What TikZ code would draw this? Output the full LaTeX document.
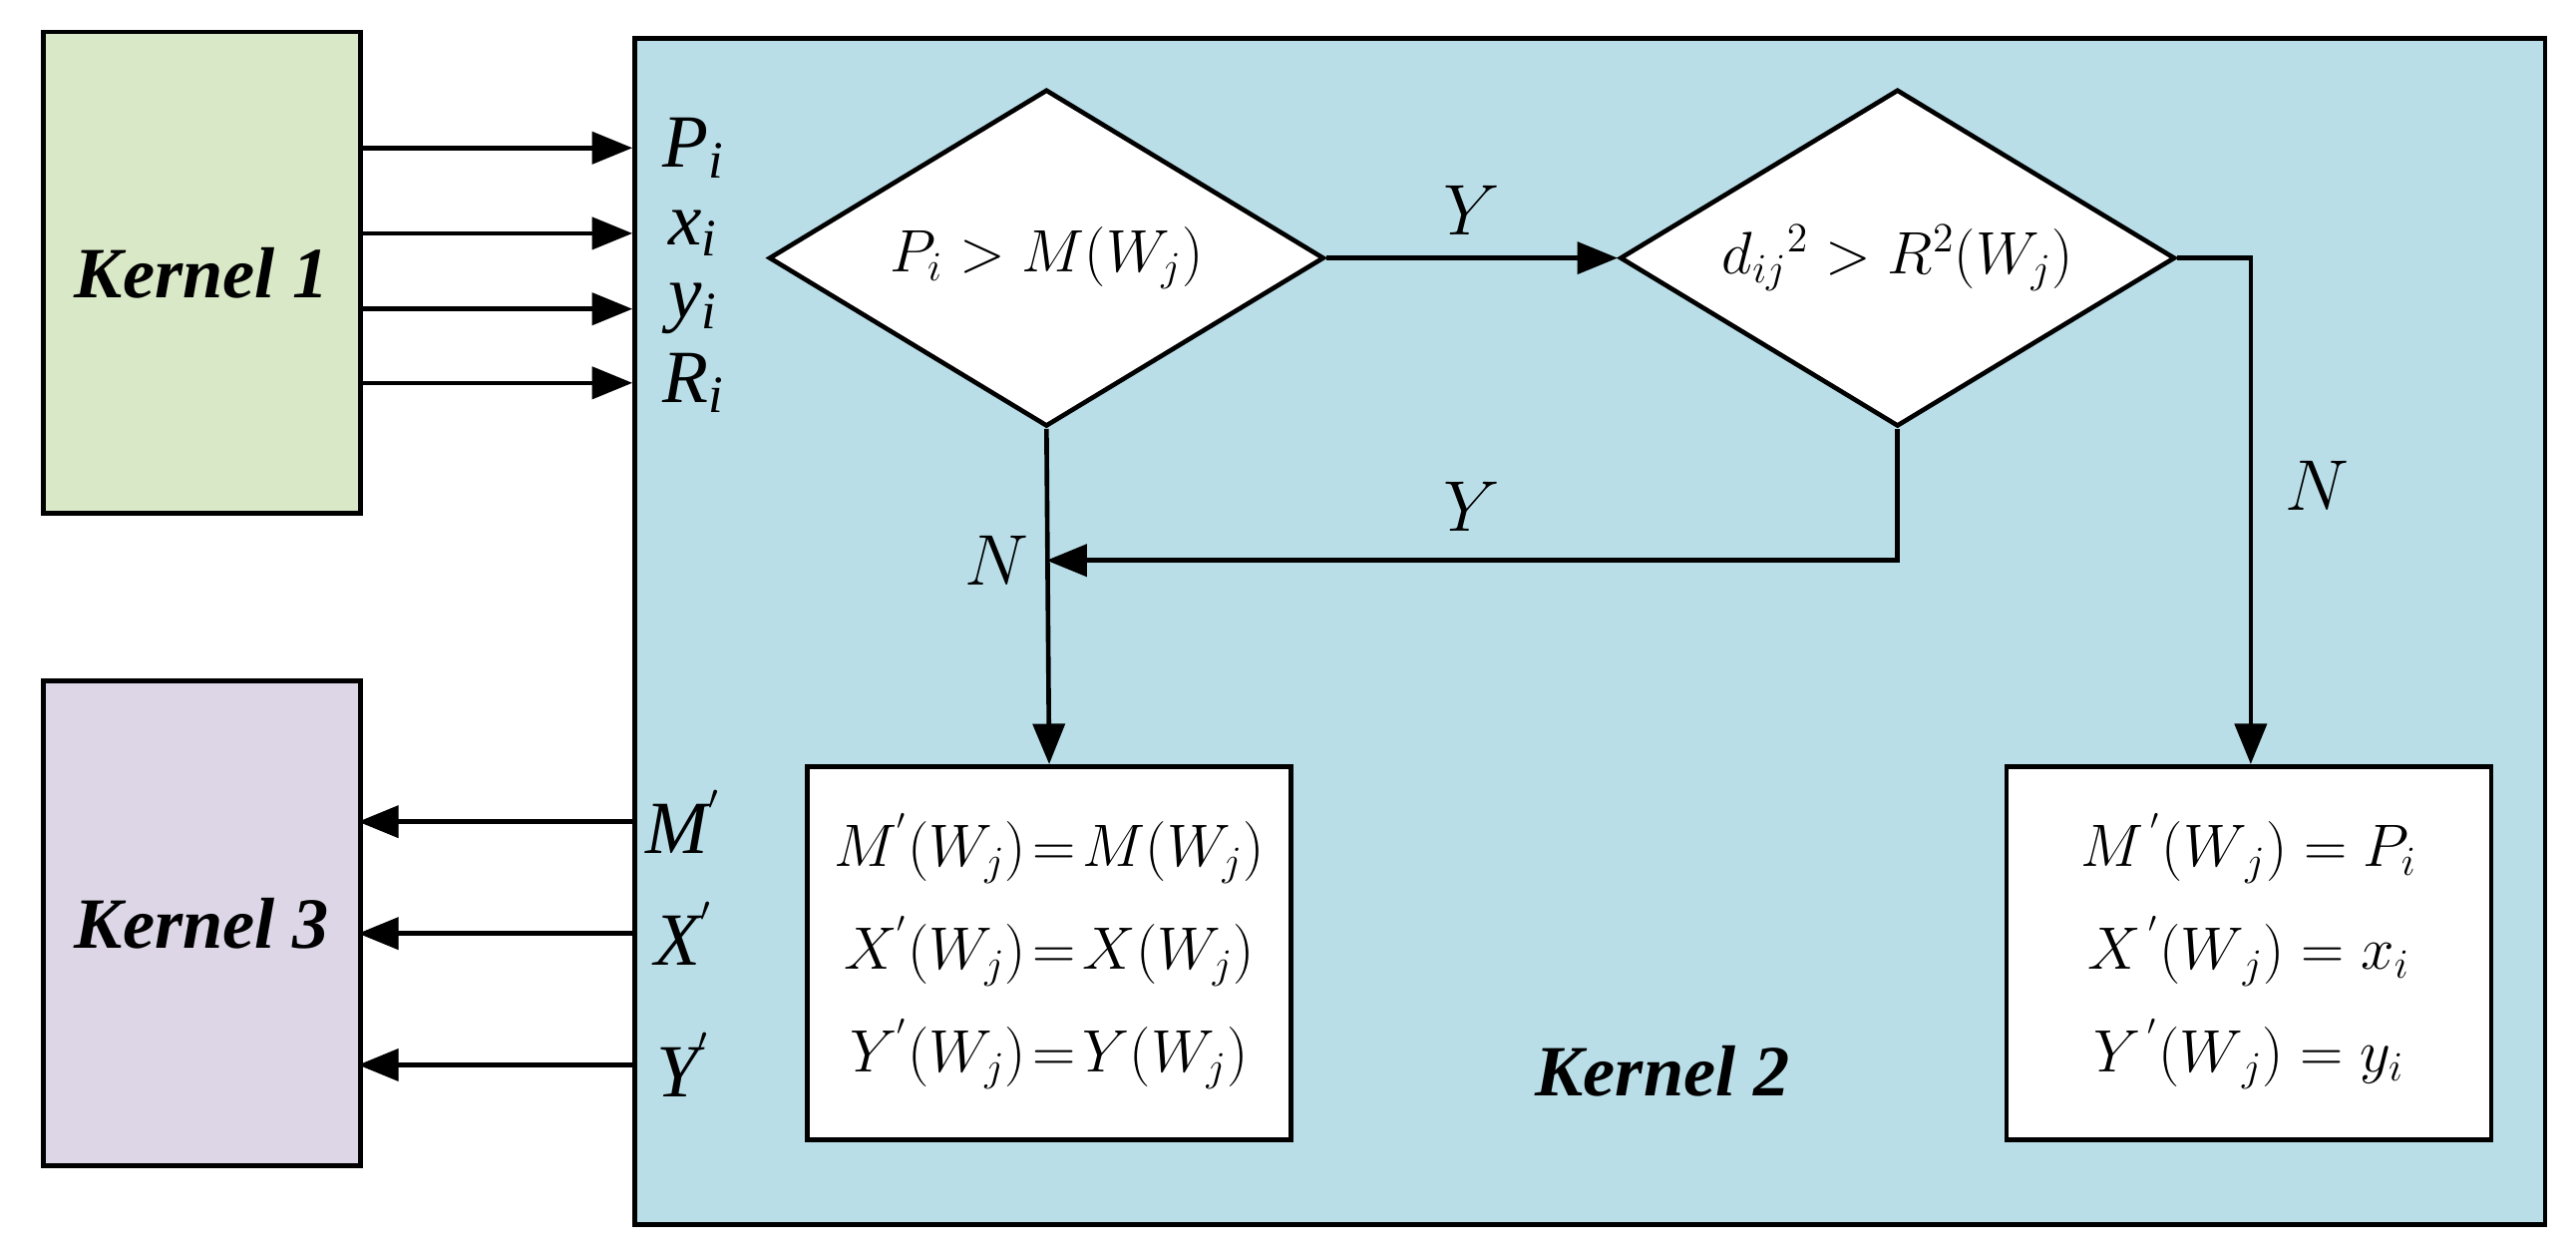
\documentclass[tikz,border=0pt]{standalone}
\usepackage{fontspec}
\setmainfont{Liberation Serif}
\usetikzlibrary{arrows.meta,shapes.geometric}
\definecolor{kone}{HTML}{D9E8C6}
\definecolor{kthree}{HTML}{DCD6E6}
\definecolor{ktwo}{HTML}{B9DEE8}
\begin{document}
\begin{tikzpicture}[x=0.02cm,y=-0.02cm,
  line width=1.6pt,
  arr/.style={-{Triangle[length=14pt,width=11pt]}},
  kbox/.style={draw,line width=1.6pt},
  dia/.style={draw,fill=white,diamond,aspect=1.65,minimum width=6.76cm,minimum height=4.1cm,inner sep=0pt,font=\fontsize{20}{24}\selectfont},
  lab/.style={font=\fontsize{26}{30}\selectfont\itshape},
  klab/.style={font=\fontsize{25}{29}\selectfont\bfseries\itshape}]
\useasboundingbox (0,0) rectangle (1568,764);
\node[kbox,fill=kone,minimum width=3.86cm,minimum height=5.86cm,anchor=north west] (k1) at (25,18) {};
\node[klab] at (k1.center) {Kernel 1};
\node[kbox,fill=kthree,minimum width=3.86cm,minimum height=5.9cm,anchor=north west] (k3) at (25,413) {};
\node[klab] at (k3.center) {Kernel 3};
\node[kbox,fill=ktwo,minimum width=23.26cm,minimum height=14.44cm,anchor=north west] (k2) at (385,22) {};
\node[klab] (k2l) at (1012,652) {Kernel 2};
% inputs
\foreach \yy/\t [count=\i] in {90/P_i,142/x_i,188/y_i,233/R_i}{
  \coordinate (s\i) at (218,\yy); \coordinate (e\i) at (385,\yy);
  \draw[arr] (s\i) -- (e\i);
  \node[lab] (in\i) at (422,\yy) {$\mathit{\t}$};
}
\foreach \yy/\t [count=\i] in {500/M,568/X,648/Y}{
  \coordinate (os\i) at (385,\yy); \coordinate (oe\i) at (218,\yy);
  \draw[arr] (os\i) -- (oe\i);
  \node[lab] (out\i) at (416,\yy) {$\mathit{\t}^{'}$};
}
\node[dia] (d1) at (637,157) {$P_i > M(W_j)$};
\node[dia] (d2) at (1155,157) {$d_{ij}{}^2 > R^2(W_j)$};
\node[draw,fill=white,minimum width=5.86cm,minimum height=4.54cm,anchor=north west,font=\fontsize{20}{24}\selectfont] (b1) at (490,465)
 {\begin{tabular}{c}$M^{'}(W_j)\!=\!M(W_j)$\\[10pt]$X^{'}(W_j)\!=\!X(W_j)$\\[10pt]$Y^{'}(W_j)\!=\!Y(W_j)$\end{tabular}};
\node[draw,fill=white,minimum width=5.9cm,minimum height=4.54cm,anchor=north west,font=\fontsize{20}{24}\selectfont] (b2) at (1220,465)
 {\begin{tabular}{c}$M^{\,'}(W_{\,j}) = P_i$\\[10pt]$X^{\,'}(W_{\,j}) = x_i$\\[10pt]$Y^{\,'}(W_{\,j}) = y_i$\end{tabular}};
\draw[arr] (d1.east) -- node[lab,above=4pt]{$Y$} (d2.west);
\coordinate (j1) at (637,341);
\draw[arr] (d2.south) |- node[lab,pos=0.75,above=6pt]{$Y$} (j1);
\node[lab,left=2pt] at (j1) {$N$};
\draw[arr] (d1.south) -- (b1.north);
\coordinate (c2) at (1370,157);
\draw[arr] (d2.east) -- (c2) -- node[lab,pos=0.45,right=8pt]{$N$} (1370,465);
\end{tikzpicture}
\end{document}
